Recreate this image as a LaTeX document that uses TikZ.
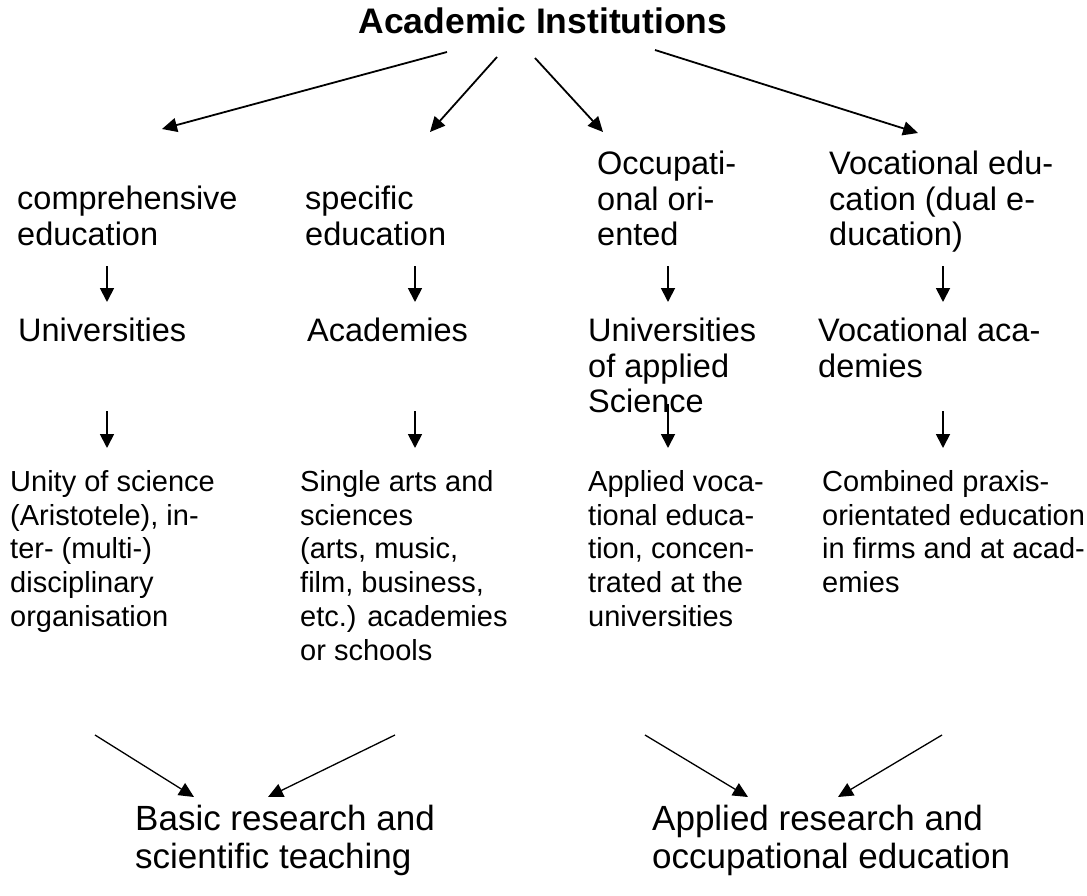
\documentclass[tikz,border=0pt]{standalone}
\usepackage{fontspec}
\setmainfont{Liberation Sans}
\usetikzlibrary{arrows.meta}
\begin{document}
\begin{tikzpicture}[x=1pt,y=-1pt,
  lbl/.style={anchor=north west, inner sep=0pt, align=left, font=\fontsize{32.5}{35.5}\selectfont},
  sml/.style={anchor=north west, inner sep=0pt, align=left, font=\fontsize{29}{33.8}\selectfont},
  big/.style={anchor=north west, inner sep=0pt, align=left, font=\fontsize{35}{38}\selectfont},
  arr/.style={line width=1.8pt, -{Triangle[length=15pt,width=14pt]}},
  darr/.style={line width=1.8pt, -{Triangle[length=14pt,width=14pt]}},
  barr/.style={line width=1.3pt, -{Triangle[length=15pt,width=14pt]}}]
\useasboundingbox (0,0) rectangle (1087,896);
\fill[white] (0,0) rectangle (1087,896);

% title
\node[inner sep=0pt, font=\bfseries\fontsize{35.5}{40}\selectfont] (title) at (543,21) {Academic Institutions};

% row 1
\node[lbl] (c1) at (17,186) {comprehensive\\education};
\node[lbl] (c2) at (305,186) {specific\\education};
\node[lbl] (c3) at (597,151) {Occupati-\\onal ori-\\ented};
\node[lbl] (c4) at (829,151) {Vocational edu-\\cation (dual e-\\ducation)};

% row 2
\node[lbl] (u1) at (18,318) {Universities};
\node[lbl] (u2) at (307,318) {Academies};
\node[lbl] (u3) at (588,318) {Universities\\of applied\\Science};
\node[lbl] (u4) at (818,318) {Vocational aca-\\demies};

% row 3
\node[sml] (d1) at (10,470) {Unity of science\\(Aristotele), in-\\ter- (multi-)\\disciplinary\\organisation};
\node[sml] (d2) at (300,470) {Single arts and\\sciences\\(arts, music,\\film, business,\\etc.) academies\\or schools};
\node[sml] (d3) at (588,470) {Applied voca-\\tional educa-\\tion, concen-\\trated at the\\universities};
\node[sml] (d4) at (822,470) {Combined praxis-\\orientated education\\in firms and at acad-\\emies};

% bottom
\node[big] (b1) at (135,805) {Basic research and\\scientific teaching};
\node[big] (b2) at (652,805) {Applied research and\\occupational education};

% coordinates for arrows
\coordinate (t1s) at (447,52); \coordinate (t1e) at (162,129);
\coordinate (t2s) at (497,57); \coordinate (t2e) at (430,132);
\coordinate (t3s) at (535,58); \coordinate (t3e) at (603,132);
\coordinate (t4s) at (655,50); \coordinate (t4e) at (918,133);
\draw[arr] (t1s) -- (t1e);
\draw[arr] (t2s) -- (t2e);
\draw[arr] (t3s) -- (t3e);
\draw[arr] (t4s) -- (t4e);

\foreach \n/\x in {1/107,2/415,3/668,4/943}{
  \coordinate (r\n s) at (\x,266); \coordinate (r\n e) at (\x,302);
  \draw[darr] (r\n s) -- (r\n e);
}
\foreach \n/\x/\y in {1/107/411,2/415/411,3/668/404,4/943/411}{
  \coordinate (q\n s) at (\x,\y); \coordinate (q\n e) at (\x,448);
  \draw[darr] (q\n s) -- (q\n e);
}

\coordinate (p1s) at (95,735);  \coordinate (p1e) at (194,797);
\coordinate (p2s) at (395,735); \coordinate (p2e) at (268,797);
\coordinate (p3s) at (645,735); \coordinate (p3e) at (748,797);
\coordinate (p4s) at (942,735); \coordinate (p4e) at (838,797);
\draw[barr] (p1s) -- (p1e);
\draw[barr] (p2s) -- (p2e);
\draw[barr] (p3s) -- (p3e);
\draw[barr] (p4s) -- (p4e);
\end{tikzpicture}
\end{document}
